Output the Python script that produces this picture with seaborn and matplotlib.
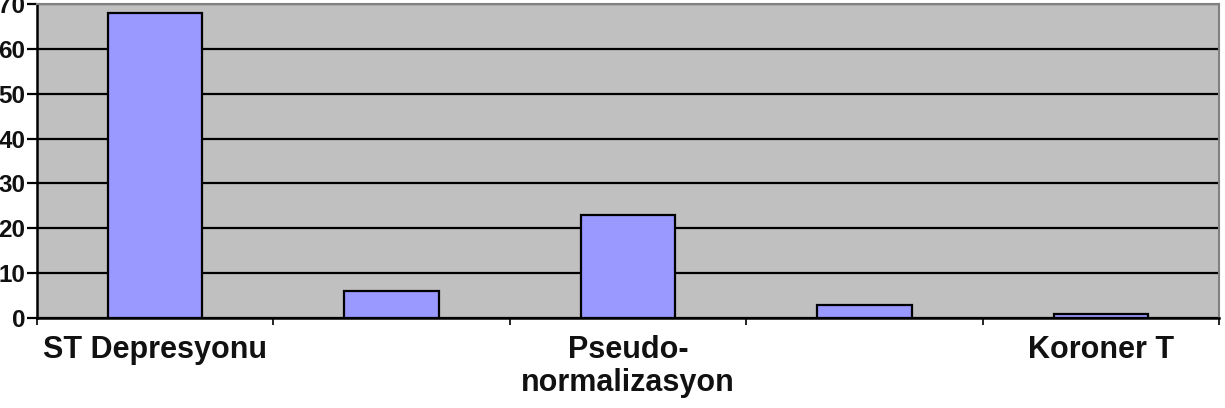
import matplotlib
matplotlib.use("Agg")
import matplotlib.pyplot as plt
import seaborn as sns
import pandas as pd
from matplotlib.ticker import FixedLocator

categories = ["ST Depresyonu", "", "Pseudo-\nnormalizasyon", "", "Koroner T"]
values = [68, 6, 23, 3, 1]
yticks = [0, 10, 20, 30, 40, 50, 60, 70]

sns.set_theme(style="white")
plt.rcParams['font.family'] = ['Liberation Sans', 'DejaVu Sans']

df = pd.DataFrame({"idx": list(range(len(values))), "value": values})

fig = plt.figure(figsize=(12.25, 4.08), dpi=100)
ax = fig.add_axes([37/1225, 1 - 318/408, (1219 - 37)/1225, (318 - 4)/408])
ax.set_facecolor("#C0C0C0")

sns.barplot(data=df, x="idx", y="value", order=list(range(len(values))),
            color="#9999FF", width=0.4, edgecolor="black", linewidth=1.6,
            saturation=1, ax=ax, zorder=3)

ax.set_xlim(-0.5, len(values) - 0.5)
ax.set_ylim(0, 70)
ax.set_yticks(yticks)
ax.set_yticklabels([str(t) for t in yticks], fontsize=17.5, fontweight="bold", color="#111111")
ax.yaxis.grid(True, color="black", linewidth=1.6, zorder=1)
ax.set_axisbelow(True)

# category boundary ticks (major) and labels at centers (minor)
ax.xaxis.set_major_locator(FixedLocator([i - 0.5 for i in range(len(values) + 1)]))
ax.set_xticklabels([""] * (len(values) + 1))
ax.xaxis.set_minor_locator(FixedLocator(list(range(len(values)))))
ax.set_xticklabels(categories, minor=True, fontsize=22, fontweight="bold",
                   color="#111111", linespacing=1.15)
ax.tick_params(axis="x", which="major", length=5, width=1.2, color="black", direction="out", bottom=True)
ax.tick_params(axis="x", which="minor", length=0, pad=12)
ax.tick_params(axis="y", length=7, width=1.6, color="black", direction="out", left=True, pad=1.5)

ax.set_xlabel("")
ax.set_ylabel("")

for side in ["left", "bottom"]:
    ax.spines[side].set_color("black")
    ax.spines[side].set_linewidth(1.8)
for side in ["top", "right"]:
    ax.spines[side].set_color("#808080")
    ax.spines[side].set_linewidth(1.5)

fig.savefig("out.png", dpi=100)
